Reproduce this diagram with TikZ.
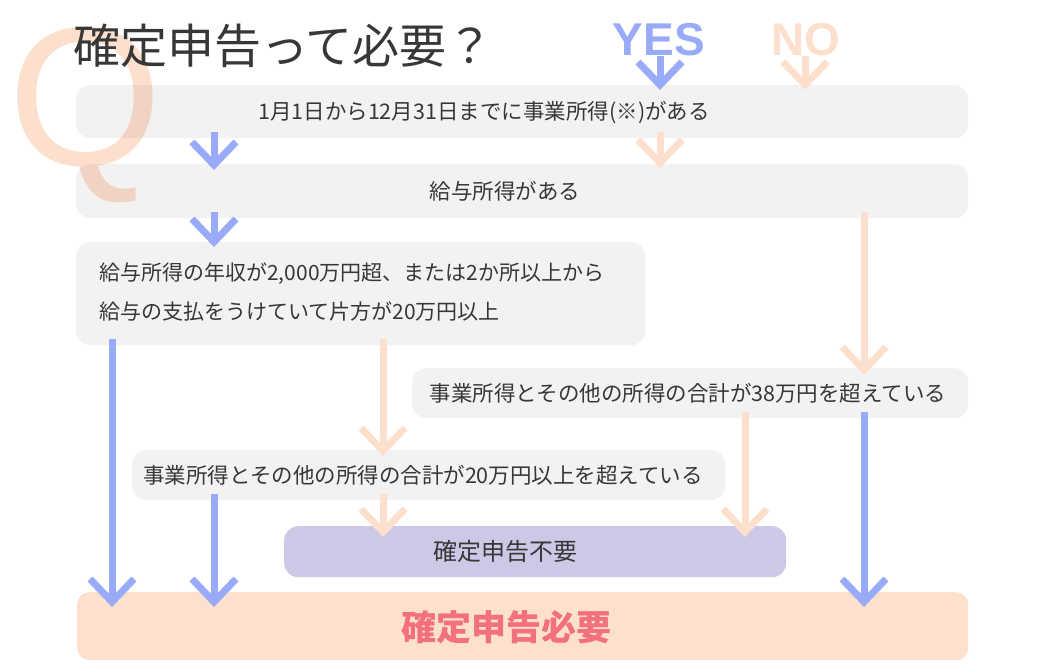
\documentclass[tikz,border=0pt]{standalone}
\usepackage{fontspec}
\usepackage{tikz}
\usetikzlibrary{arrows.meta,positioning}
\setmainfont{Noto Sans CJK JP}
\newfontfamily\latinfont{Liberation Sans}

\definecolor{yesblue}{RGB}{153,170,249}
\definecolor{nopeach}{RGB}{253,223,206}
\definecolor{boxgray}{RGB}{242,242,242}
\definecolor{boxpurple}{RGB}{205,200,230}
\definecolor{boxpeach}{RGB}{254,224,207}
\definecolor{needred}{RGB}{243,113,125}
\definecolor{textgray}{RGB}{55,55,55}

\tikzset{
	box/.style={fill=boxgray, rounded corners=14pt, anchor=north west, inner sep=0pt},
	txt/.style={text=textgray, font=\fontsize{21.5}{39}\selectfont, inner sep=0pt},
	yes/.style={draw=yesblue, line width=7pt, -{Straight Barb[sharp, length=23pt, width=44pt]}, shorten <=-6pt, shorten >=-8pt},
	no/.style={yes, draw=nopeach},
}

\begin{document}
\begin{tikzpicture}[x=1pt, y=-1pt]
	\useasboundingbox (0,0) rectangle (1040,670);

	% columns of the arrows
	\coordinate (ca) at (112,0);
	\coordinate (cb) at (214,0);
	\coordinate (cc) at (383,0);
	\coordinate (cd) at (660,0);
	\coordinate (ce) at (745,0);
	\coordinate (cf) at (805,0);
	\coordinate (cg) at (864,0);

	\node[box, minimum width=892pt, minimum height=53pt] (b1) at (76,85) {};
	\node[box, minimum width=892pt, minimum height=54pt] (b2) at (76,164) {};
	\node[box, minimum width=569pt, minimum height=103pt] (b3) at (76,242) {};
	\node[box, minimum width=556pt, minimum height=50pt] (b4) at (412,368) {};
	\node[box, minimum width=593pt, minimum height=50pt] (b5) at (132,450) {};
	\node[box, fill=boxpurple, minimum width=502pt, minimum height=51pt] (b6) at (284,526) {};
	\node[box, fill=boxpeach, rounded corners=12pt, minimum width=891pt, minimum height=68pt] (b7) at (77,592) {};

	\node[txt] (t1) at (484,113) {1月1日から12月31日までに事業所得(※)がある};
	\node[txt] (t2) at (505,191) {給与所得がある};
	\node[txt, anchor=west, align=left, font=\fontsize{21}{39}\selectfont] (t3) at (99,292) {給与所得の年収が2,000万円超、または2か所以上から\\給与の支払をうけていて片方が20万円以上};
	\node[txt] (t4) at (688,393) {事業所得とその他の所得の合計が38万円を超えている};
	\node[txt] (t5) at (423,475) {事業所得とその他の所得の合計が20万円以上を超えている};
	\node[txt, font=\fontsize{24}{28}\selectfont] (t6) at (505,551) {確定申告不要};
	\node[txt, text=needred, font=\fontsize{35}{40}\selectfont\bfseries] (t7) at (506,627) {確定申告必要};

	\begin{scope}[blend mode=multiply]
	\node[text=nopeach, anchor=base west, inner sep=0pt, font=\latinfont\fontsize{198}{198}\selectfont] (q) at (8,165) {Q};
	\end{scope}

	\node[txt, anchor=west, font=\fontsize{47}{50}\selectfont] (title) at (73,46) {確定申告って必要？};
	\node[text=yesblue, inner sep=0pt, anchor=base, font=\latinfont\bfseries\fontsize{46}{46}\selectfont] (yes) at (659,55) {YES};
	\node[text=nopeach, inner sep=0pt, anchor=base, font=\latinfont\bfseries\fontsize{46}{46}\selectfont] (no) at (806,55) {NO};

	\draw[yes, shorten <=0pt, shorten >=-5pt] (yes.south -| cd) -- (b1.north -| cd);
	\draw[no, shorten <=0pt, shorten >=-5pt] (no.south -| cf) -- (b1.north -| cf);
	\draw[yes, shorten >=-6pt] (b1.south -| cb) -- (b2.north -| cb);
	\draw[no, shorten >=-4pt] (b1.south -| cd) -- (b2.north -| cd);
	\draw[yes, shorten >=-5pt] (b2.south -| cb) -- (b3.north -| cb);
	\draw[no, shorten >=-7pt] (b2.south -| cg) -- (b4.north -| cg);
	\draw[yes, shorten >=-15pt] (b3.south -| ca) -- (b7.north -| ca);
	\draw[no, shorten >=-6pt] (b3.south -| cc) -- (b5.north -| cc);
	\draw[no, shorten >=-11pt] (b4.south -| ce) -- (b6.north -| ce);
	\draw[yes, shorten >=-15pt] (b4.south -| cg) -- (b7.north -| cg);
	\draw[yes, shorten >=-15pt] (b5.south -| cb) -- (b7.north -| cb);
	\draw[no, shorten >=-11pt] (b5.south -| cc) -- (b6.north -| cc);
\end{tikzpicture}
\end{document}
